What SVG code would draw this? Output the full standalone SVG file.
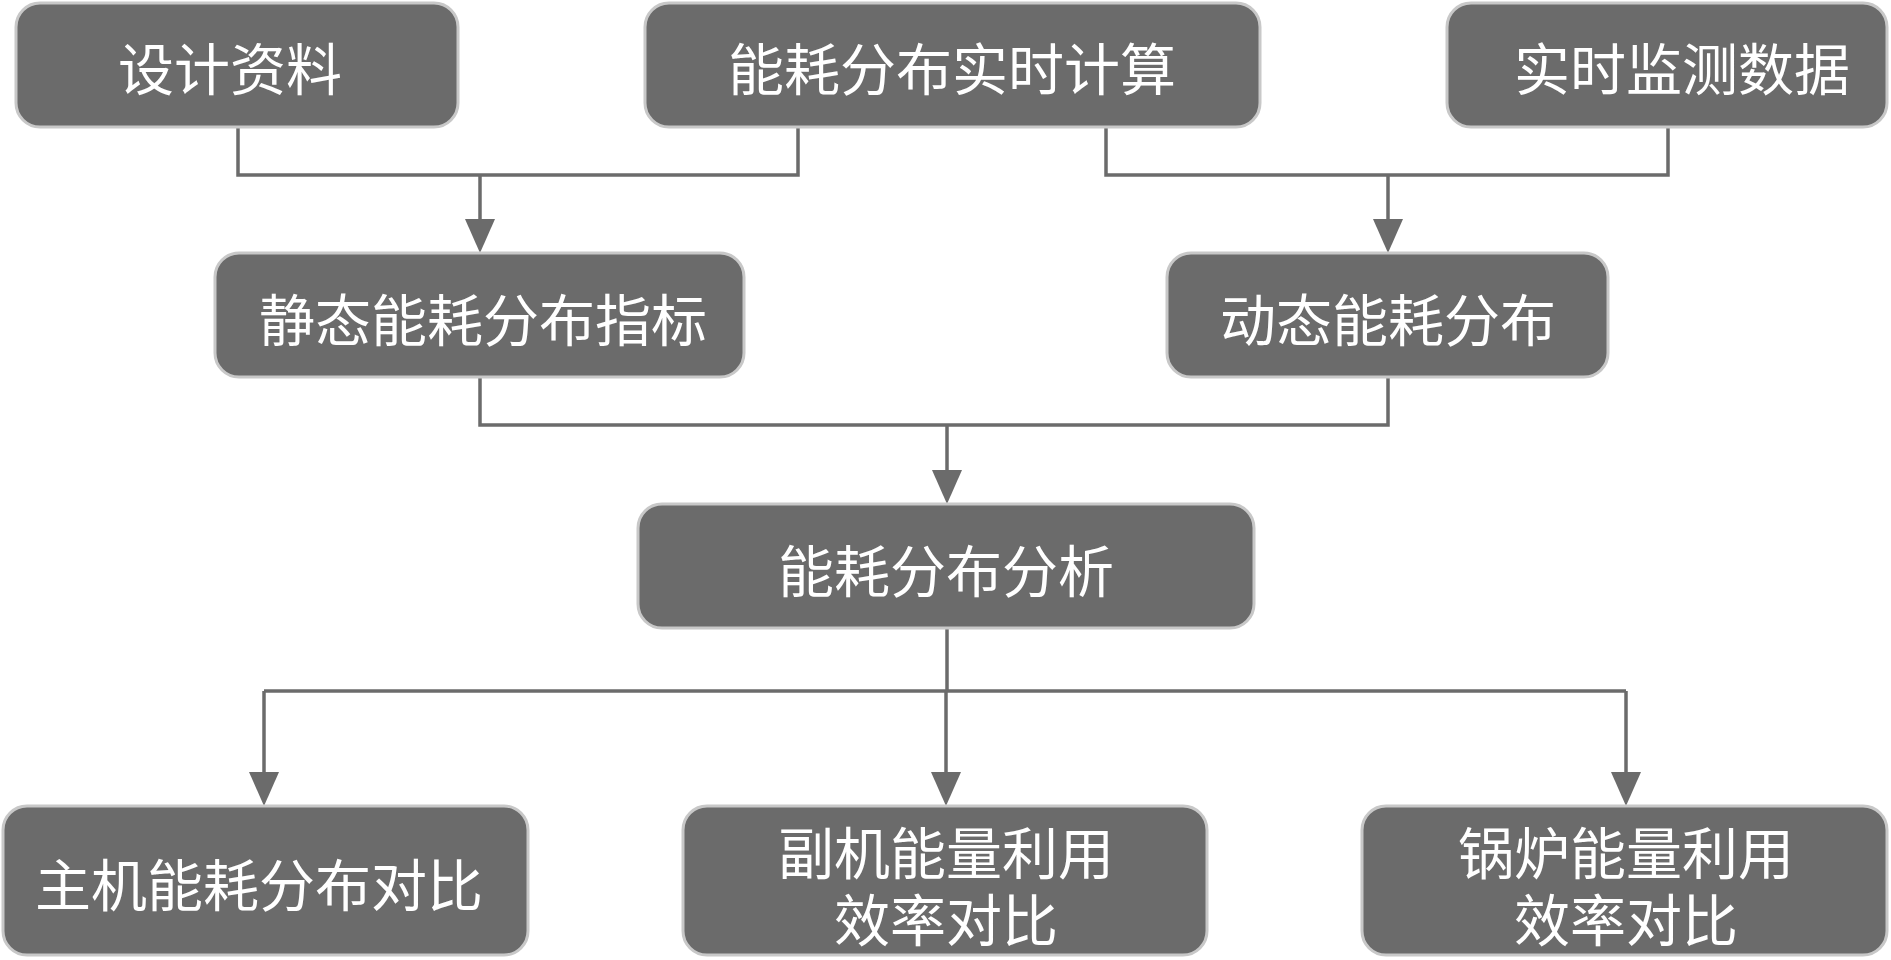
<svg xmlns="http://www.w3.org/2000/svg" width="1891" height="960" viewBox="0 0 1891 960">
<style>
.box{fill:#6b6b6b;stroke:#c8c8c8;stroke-width:3}
.t{fill:#ffffff;font-family:"Noto Sans CJK SC","Noto Sans",sans-serif;font-size:56px;text-anchor:middle;dominant-baseline:central}
.c{fill:none;stroke:#6b6b6b;stroke-width:3.5}
.a{fill:#6b6b6b}
</style>
<rect width="1891" height="960" fill="#ffffff"/>
<g id="connectors">
<polyline class="c" points="238,127 238,175 798,175 798,127"/>
<polyline class="c" points="1106,127 1106,175 1668,175 1668,127"/>
<polyline class="c" points="480,377 480,425 1388,425 1388,377"/>
<polyline class="c" points="264,691 1626,691"/>
<line class="c" x1="947" y1="628" x2="947" y2="691"/>
<line class="c" x1="480" y1="175" x2="480" y2="222"/>
<path class="a" d="M465,219 L495,219 L480,253 Z"/>
<line class="c" x1="1388" y1="175" x2="1388" y2="222"/>
<path class="a" d="M1373,219 L1403,219 L1388,253 Z"/>
<line class="c" x1="947" y1="425" x2="947" y2="473"/>
<path class="a" d="M932,470 L962,470 L947,504 Z"/>
<line class="c" x1="264" y1="691" x2="264" y2="775"/>
<path class="a" d="M249,772 L279,772 L264,806 Z"/>
<line class="c" x1="946" y1="691" x2="946" y2="775"/>
<path class="a" d="M931,772 L961,772 L946,806 Z"/>
<line class="c" x1="1626" y1="691" x2="1626" y2="775"/>
<path class="a" d="M1611,772 L1641,772 L1626,806 Z"/>
</g>
<g id="n1"><rect class="box" x="16" y="3" width="442" height="124" rx="24"/><text class="t" x="230" y="65">设计资料</text></g>
<g id="n2"><rect class="box" x="645" y="3" width="615" height="124" rx="24"/><text class="t" x="952" y="65">能耗分布实时计算</text></g>
<g id="n3"><rect class="box" x="1447" y="3" width="440" height="124" rx="24"/><text class="t" x="1682" y="65">实时监测数据</text></g>
<g id="n4"><rect class="box" x="215" y="253" width="529" height="124" rx="24"/><text class="t" x="483" y="316">静态能耗分布指标</text></g>
<g id="n5"><rect class="box" x="1167" y="253" width="441" height="124" rx="24"/><text class="t" x="1388" y="316">动态能耗分布</text></g>
<g id="n6"><rect class="box" x="638" y="504" width="616" height="124" rx="24"/><text class="t" x="946" y="567">能耗分布分析</text></g>
<g id="n7"><rect class="box" x="3" y="806" width="525" height="149" rx="24"/><text class="t" x="259" y="881">主机能耗分布对比</text></g>
<g id="n8"><rect class="box" x="683" y="806" width="524" height="149" rx="24"/><text class="t"><tspan x="946" y="849">副机能量利用</tspan><tspan x="946" y="916">效率对比</tspan></text></g>
<g id="n9"><rect class="box" x="1362" y="806" width="525" height="149" rx="24"/><text class="t"><tspan x="1626" y="849">锅炉能量利用</tspan><tspan x="1626" y="916">效率对比</tspan></text></g>
</svg>
